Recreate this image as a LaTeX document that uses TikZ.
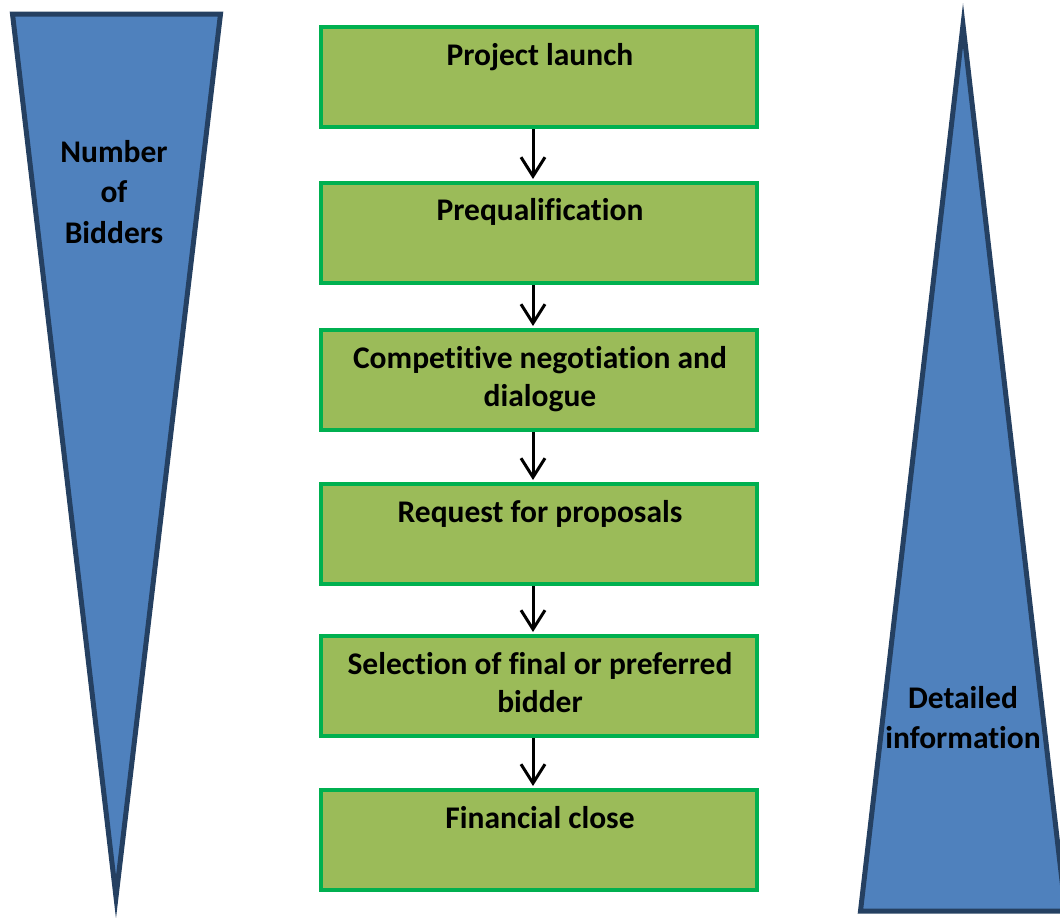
\documentclass[tikz,border=0pt]{standalone}
\usepackage{fontspec}
\setmainfont{Carlito}[Ligatures={NoCommon,NoRequired,NoContextual,NoRare,NoHistoric},
  RawFeature={-liga;-clig;-dlig;-calt;-rlig}]
\usetikzlibrary{arrows.meta}
\definecolor{wedgefill}{HTML}{4F81BD}
\definecolor{wedgeedge}{HTML}{254061}
\definecolor{stagefill}{HTML}{9BBB59}
\definecolor{stageedge}{HTML}{00B050}
% fixed-height strut so the first baseline sits at a known depth below a node's north
\newcommand\firststrut{\rule{0pt}{26pt}}
\begin{document}
\begin{tikzpicture}[x=1pt,y=-1pt,
  wedge/.style={fill=wedgefill, draw=wedgeedge, line width=5pt, line join=miter},
  stagebox/.style={rectangle, draw=stageedge, fill=stagefill, line width=4pt,
    minimum width=436pt, minimum height=100pt, inner sep=0pt, anchor=north},
  stagetext/.style={anchor=north, inner sep=0pt, align=center,
    font=\bfseries\fontsize{31.5}{38}\selectfont},
  wedgetext/.style={anchor=north, inner sep=0pt, align=center,
    font=\bfseries\fontsize{31.5}{40.5}\selectfont},
  flow/.style={line width=3pt, -{Straight Barb[length=19pt,width=24pt]}}]
\useasboundingbox (0,0) rectangle (1060,918);
\clip (0,0) rectangle (1060,918);

% narrowing wedge: number of bidders
\draw[wedge] (12.5,14) -- (220.5,14) -- (116,897) -- cycle;
\node[wedgetext] (bidders) at (114,136) {\firststrut Number\\of\\Bidders};

% widening wedge: detailed information
\draw[wedge] (963,25) -- (1065.5,911) -- (860.5,911) -- cycle;
\node[wedgetext] (detail) at (963,682) {\firststrut Detailed\\information};

% process stages
\node[stagebox] (b1) at (539,25) {};
\node[stagebox] (b2) at (539,181) {};
\node[stagebox] (b3) at (539,328) {};
\node[stagebox] (b4) at (539,482) {};
\node[stagebox] (b5) at (539,634) {};
\node[stagebox] (b6) at (539,788) {};

\node[stagetext] (t1) at (540,39)  {\firststrut Project launch};
\node[stagetext] (t2) at (540,194) {\firststrut Prequalification};
\node[stagetext] (t3) at (540,342) {\firststrut Competitive negotiation and\\dialogue};
\node[stagetext] (t4) at (540,496) {\firststrut Request for proposals};
\node[stagetext] (t5) at (540,648) {\firststrut Selection of final or preferred\\bidder};
\node[stagetext] (t6) at (540,802) {\firststrut Financial close};

% arrows between consecutive stages
\foreach \a/\b in {b1/b2, b2/b3, b3/b4, b4/b5, b5/b6}
  \draw[flow] ([xshift=-6pt]\a.south) -- ([xshift=-6pt,yshift=2pt]\b.north);
\end{tikzpicture}
\end{document}
